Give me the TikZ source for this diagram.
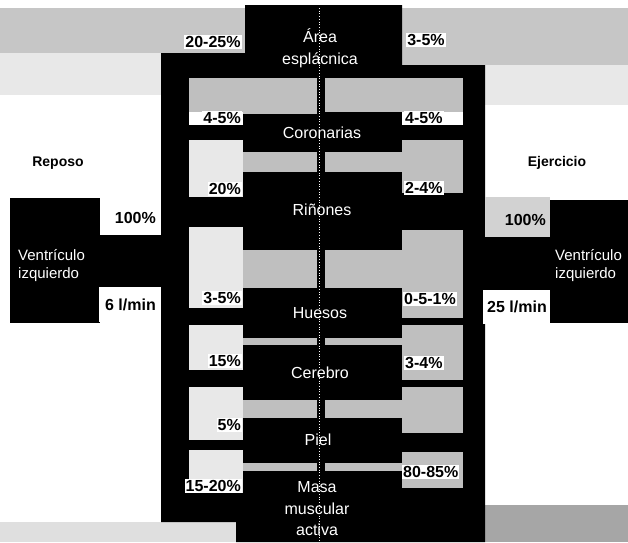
\documentclass[tikz,border=0pt]{standalone}
\usepackage{fontspec}
\setmainfont{Liberation Sans}
\begin{document}
\begin{tikzpicture}[x=1pt,y=-1pt,
  organ/.style={text=white,font=\fontsize{16}{21.5}\selectfont,align=center,inner sep=0pt},
  pct/.style={fill=white,text=black,font=\bfseries\fontsize{16}{18}\selectfont,inner sep=1pt},
  pctnf/.style={text=black,font=\bfseries\fontsize{16}{18}\selectfont,inner sep=1pt},
  hatch/.style={fill=gray!50},
  light/.style={fill=gray!18},
  side/.style={text=black,font=\bfseries\fontsize{14}{16}\selectfont},
  vent/.style={text=white,font=\fontsize{15}{18}\selectfont,align=left,inner sep=0pt}]
\useasboundingbox (0,0) rectangle (628,542);
\clip (0,0) rectangle (628,542);
\fill[white] (0,0) rectangle (628,542);
% background screen areas
\fill[gray!45] (0,8) rectangle (245,53);
\fill[gray!18] (0,53) rectangle (161,95);
\fill[gray!45] (402,8) rectangle (628,65);
\fill[gray!18] (485,65) rectangle (628,105);
\fill[gray!25] (0,522) rectangle (236,542);
\fill[gray!70] (485,505) rectangle (628,542);
% black frame
\fill[black] (161,53) -- (245,53) -- (245,5) -- (402,5) -- (402,65) -- (485,65)
  -- (485,542) -- (236,542) -- (236,522) -- (161,522) -- cycle;
% ventricles
\fill[black] (10,198) rectangle (100,323);
\fill[black] (100,235) rectangle (162,287);
\fill[black] (550,200) rectangle (628,323);
\fill[black] (484,237) rectangle (550,290);
% cut-outs: row 1
\fill[hatch] (189,78) rectangle (317,114);
\fill[hatch] (325,78) rectangle (463,112);
% row 2
\fill[light] (189,140) rectangle (243,197);
\fill[hatch] (243,152) rectangle (317,172);
\fill[hatch] (325,152) rectangle (402,172);
\fill[hatch] (402,140) rectangle (463,193);
% row 3
\fill[light] (189,227) rectangle (243,308);
\fill[hatch] (243,250) rectangle (317,288);
\fill[hatch] (325,250) rectangle (402,288);
\fill[hatch] (402,230) rectangle (463,318);
% row 4
\fill[light] (189,325) rectangle (243,370);
\fill[hatch] (243,338) rectangle (317,345);
\fill[hatch] (325,338) rectangle (402,345);
\fill[hatch] (402,325) rectangle (463,380);
% row 5
\fill[light] (189,387) rectangle (243,440);
\fill[hatch] (243,400) rectangle (317,418);
\fill[hatch] (325,400) rectangle (402,418);
\fill[hatch] (402,387) rectangle (463,433);
% row 6
\fill[light] (189,450) rectangle (243,493);
\fill[hatch] (243,463) rectangle (317,471);
\fill[hatch] (325,463) rectangle (402,471);
\fill[hatch] (402,452) rectangle (463,488);
% label backgrounds
\fill[white] (189,112) rectangle (243,125);
\fill[white] (402,112) rectangle (463,125);
\fill[white] (100,200) rectangle (160,235);
\fill[white] (99,287) rectangle (160,322);
\fill[gray!35] (485,197) rectangle (550,237);
\fill[white] (483,290) rectangle (550,324);
% centre dotted line
\draw[white,dotted,line width=0.7pt] (319,8) -- (319,542);
% organ names
\node[organ] (area) at (320,48) {Área\\esplácnica};
\node[organ] (coron) at (322,133) {Coronarias};
\node[organ] (rinon) at (322,210) {Riñones};
\node[organ] (hueso) at (320,313) {Huesos};
\node[organ] (cereb) at (320,373) {Cerebro};
\node[organ] (piel) at (318,440) {Piel};
\node[organ] (masa) at (317,509) {Masa\\muscular\\activa};
% ventricles text
\node[vent,anchor=west] (vi) at (18,266) {Ventrículo\\izquierdo};
\node[vent,anchor=west] (vd) at (555,266) {Ventrículo\\izquierdo};
\node[side] (rep) at (58,163) {Reposo};
\node[side] (ejer) at (557,163) {Ejercicio};
% rest percentages
\node[pct] (p1) at (213,42) {20-25\%};
\node[pct,anchor=east] (p2) at (242,118) {4-5\%};
\node[pct,anchor=east] (p3) at (242,189) {20\%};
\node[pct,anchor=east] (p4) at (242,298) {3-5\%};
\node[pct,anchor=east] (p5) at (242,361) {15\%};
\node[pct,anchor=east] (p6) at (242,425) {5\%};
\node[pct,anchor=east] (p7) at (242,486) {15-20\%};
% exercise percentages
\node[pct] (e1) at (426,40) {3-5\%};
\node[pct,anchor=west] (e2) at (404,118) {4-5\%};
\node[pct,anchor=west] (e3) at (404,188) {2-4\%};
\node[pct,anchor=west] (e4) at (403,299) {0-5-1\%};
\node[pct,anchor=west] (e5) at (404,363) {3-4\%};
\node[pct,anchor=west] (e7) at (402,472) {80-85\%};
% flows
\node[pct,fill=none,anchor=east] (f1) at (157,218) {100\%};
\node[pct,fill=none,anchor=east] (f2) at (157,305) {6 l/min};
\node[pctnf,anchor=east] (f3) at (547,220) {100\%};
\node[pct,fill=none,anchor=east] (f4) at (548,307) {25 l/min};
\end{tikzpicture}
\end{document}
